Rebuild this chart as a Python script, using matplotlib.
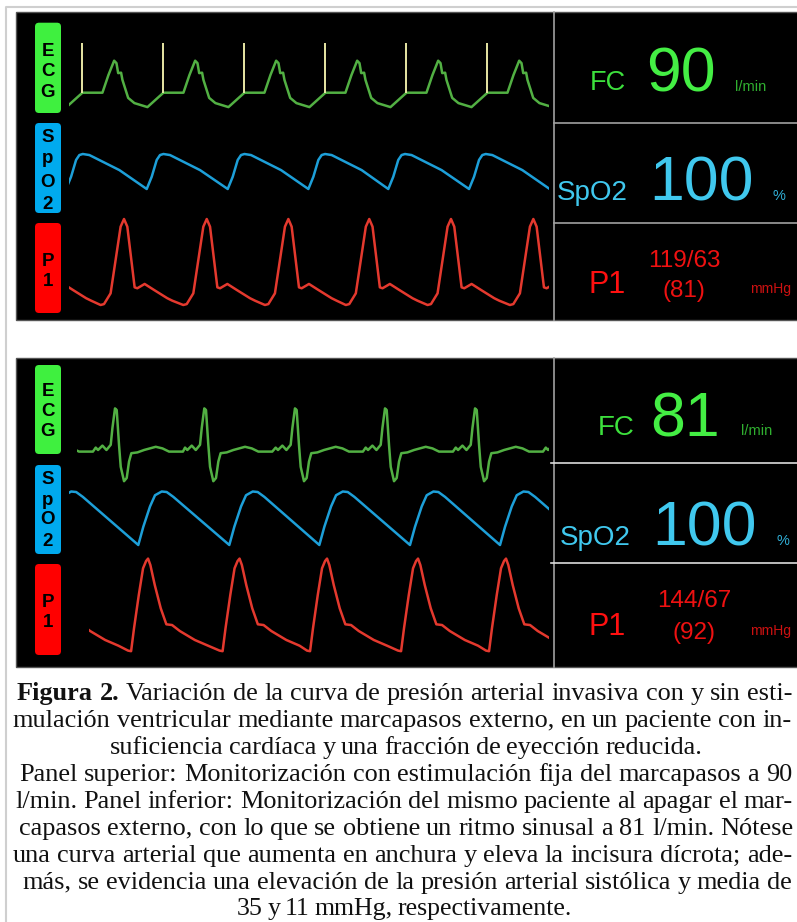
import numpy as np
import matplotlib.pyplot as plt
from matplotlib.patches import Rectangle, FancyBboxPatch

W, H = 797, 922
PX_PER_S = 122.0   # sweep speed of the monitor trace (px per second)
T0_PX = 69         # pixel column where t = 0 s

# ---------------- upper panel: pacemaker at 90 l/min ----------------
# ECG beat shape (s after pacing spike, mV)
ecg_pace_t = [0.000, 0.164, 0.213, 0.260, 0.279, 0.293, 0.317, 0.328, 0.375, 0.426, 0.533]
ecg_pace_v = [0.00, 0.00, 0.44, 0.80, 0.74, 0.49, 0.50, 0.32, -0.13, -0.26, -0.36]
pace_spike_mv = 1.25
pace_beats = [-0.554, 0.110, 0.774, 1.438, 2.102, 2.766, 3.430]

# pleth shape (s after trough, % of amplitude)
spo2_top_t = [0.000, 0.041, 0.082, 0.109, 0.137, 0.191, 0.437]
spo2_top_v = [0, 35, 83, 97, 100, 97, 54]
spo2_top_beats = [-0.024, 0.637, 1.301, 1.962, 2.617, 3.279, 3.940]

# arterial pressure shape (s around systolic peak, mmHg)
p1_top_t = [-0.192, -0.164, -0.110, -0.069, -0.028, 0.000, 0.027, 0.060, 0.087, 0.109,
            0.169, 0.246, 0.355, 0.396]
p1_top_v = [63.0, 63.6, 70.6, 92.3, 114.0, 119.0, 114.0, 92.3, 74.5, 73.9,
            76.7, 72.8, 67.4, 65.8]
p1_top_beats = [-0.214, 0.451, 1.129, 1.798, 2.461, 3.131, 3.806]

# ---------------- lower panel: sinus rhythm at 81 l/min ----------------
ecg_sin_t = [-0.158, -0.139, -0.103, -0.070, -0.035, -0.021, 0.000, 0.014, 0.033, 0.047,
             0.074, 0.096, 0.115, 0.134, 0.184, 0.238, 0.334, 0.389, 0.443, 0.557]
ecg_sin_v = [0.06, 0.00, 0.11, 0.00, 0.13, 0.55, 1.04, 1.00, 0.13, -0.42,
             -0.78, -0.70, -0.29, -0.08, -0.06, 0.00, 0.08, 0.04, -0.04, -0.04]
ecg_sin_beats = [-0.361, 0.377, 1.109, 1.852, 2.590, 3.328, 4.066]

spo2_bot_t = [0.000, 0.041, 0.096, 0.137, 0.192, 0.233, 0.287]
spo2_bot_v = [0, 34, 72, 93, 100, 99, 90]
spo2_bot_beats = [-0.174, 0.568, 1.314, 2.052, 2.795, 3.533, 4.275]

p1_bot_t = [-0.164, -0.139, -0.115, -0.076, -0.041, -0.016, 0.000, 0.019, 0.055, 0.104,
            0.150, 0.197, 0.260, 0.383, 0.492]
p1_bot_v = [66.5, 66.0, 85.2, 113.0, 135.4, 141.5, 143.5, 138.1, 121.4, 101.9,
            88.5, 87.9, 82.9, 75.4, 70.6]
p1_bot_beats = [-0.087, 0.648, 1.398, 2.115, 2.861, 3.582]

# numeric read-outs
top_values = {'fc': '90', 'spo2': '100', 'sys_dia': '119/63', 'mean': '(81)'}
bot_values = {'fc': '81', 'spo2': '100', 'sys_dia': '144/67', 'mean': '(92)'}

caption_lines = [
    "Figura 2. Variación de la curva de presión arterial invasiva con y sin esti-",
    "mulación ventricular mediante marcapasos externo, en un paciente con in-",
    "suficiencia cardíaca y una fracción de eyección reducida.",
    "Panel superior: Monitorización con estimulación fija del marcapasos a 90",
    "l/min. Panel inferior: Monitorización del mismo paciente al apagar el mar-",
    "capasos externo, con lo que se obtiene un ritmo sinusal a 81 l/min. Nótese",
    "una curva arterial que aumenta en anchura y eleva la incisura dícrota; ade-",
    "más, se evidencia una elevación de la presión arterial sistólica y media de",
    "35 y 11 mmHg, respectivamente.",
]

ECG_C = '#52b043'
SPO2_C = '#1d9fd8'
P1_C = '#e4392e'
SPIKE_C = '#e8e6a4'
SANS = 'Liberation Sans'
SERIF = 'Liberation Serif'
LW = 1.8

fig = plt.figure(figsize=(W / 100, H / 100), dpi=100)
bg = fig.add_axes([0, 0, 1, 1])
bg.set_xlim(0, W)
bg.set_ylim(H, 0)
bg.axis('off')

# outer light frame
bg.plot([6, 6, W + 5], [H + 5, 7, 7], color='#cfcfcf', lw=1.5)


def trace(tpl_t, tpl_v, beats):
    t = np.concatenate([b + np.array(tpl_t) for b in beats])
    v = np.tile(tpl_v, len(beats))
    return t, v


def strip_ax(span, y_top, y_bot, ref_px, ref_val, px_per_unit):
    x0 = T0_PX + PX_PER_S * span[0]
    x1 = T0_PX + PX_PER_S * span[1]
    ax = fig.add_axes([x0 / W, 1 - y_bot / H, (x1 - x0) / W, (y_bot - y_top) / H])
    ax.set_xlim(*span)
    ax.set_ylim(ref_val + (ref_px - y_bot) / px_per_unit, ref_val + (ref_px - y_top) / px_per_unit)
    ax.axis('off')
    return ax


def wave(ax, t, v, color):
    ax.plot(t, v, color=color, lw=LW, solid_joinstyle='round', solid_capstyle='round')


def label_box(x, y0, y1, color, letters):
    bg.add_patch(FancyBboxPatch((x, y0), 26, y1 - y0, boxstyle='round,pad=0,rounding_size=4',
                                fc=color, ec='none'))
    for ch, yb in letters:
        bg.text(x + 13, yb, ch, ha='center', va='baseline', fontsize=13.5,
                fontweight='bold', family=SANS, color='black')


def panel(y0, y1, dividers, div_c, div_x0):
    bg.add_patch(Rectangle((16, y0), W, y1 - y0, fc='black', ec='#555555', lw=1))
    bg.plot([554, 554], [y0, y1], color='#a0a0a0', lw=1.2)
    for yd in dividers:
        bg.plot([div_x0, W], [yd, yd], color=div_c, lw=1.2)


# ---------------- upper panel ----------------
panel(12.5, 320, [123.3, 223.3], '#a0a0a0', 554)
label_box(35, 22.7, 113, '#3ff03f', [('E', 55.5), ('C', 76), ('G', 97)])
label_box(35, 123, 213, '#00aaee', [('S', 142), ('p', 163), ('O', 187), ('2', 208.5)])
label_box(35, 223, 313, '#ff0000', [('P', 265.5), ('1', 285.5)])

span = (0.0, 3.934)
ax = strip_ax(span, 18, 118, 92.7, 0.0, 40.0)
t, v = trace(ecg_pace_t, ecg_pace_v, pace_beats)
wave(ax, t, v, ECG_C)
sp = [b for b in pace_beats if span[0] <= b <= span[1]]
ax.vlines(sp, 0, pace_spike_mv, color=SPIKE_C, lw=1.4)

ax = strip_ax(span, 128, 210, 189, 0.0, 0.35)
t, v = trace(spo2_top_t, spo2_top_v, spo2_top_beats)
wave(ax, t, v, SPO2_C)

ax = strip_ax(span, 210, 318, 305, 63.0, 1.5357)
t, v = trace(p1_top_t, p1_top_v, p1_top_beats)
wave(ax, t, v, P1_C)

bg.text(590, 90, 'FC', color='#3de03d', fontsize=19.5, family=SANS, va='baseline')
bg.text(680.5, 91.7, top_values['fc'], color='#44ee44', fontsize=45, family=SANS,
        va='baseline', ha='center')
bg.text(735, 90.7, 'l/min', color='#30b030', fontsize=10.5, family=SANS, va='baseline')
bg.text(557, 200, 'SpO2', color='#40c8ee', fontsize=20, family=SANS, va='baseline')
bg.text(701.5, 200, top_values['spo2'], color='#40c8ee', fontsize=45, family=SANS,
        va='baseline', ha='center')
bg.text(773, 200, '%', color='#30b0d8', fontsize=10.5, family=SANS, va='baseline')
bg.text(589, 293.3, 'P1', color='#ff1010', fontsize=22, family=SANS, va='baseline')
bg.text(684.5, 266.7, top_values['sys_dia'], color='#ee1111', fontsize=17.5, family=SANS,
        va='baseline', ha='center')
bg.text(684, 297, top_values['mean'], color='#ee1111', fontsize=17.5, family=SANS,
        va='baseline', ha='center')
bg.text(750, 293.3, 'mmHg', color='#cc1111', fontsize=10, family=SANS, va='baseline')

# ---------------- lower panel ----------------
panel(358, 667, [463.3, 562.7], '#dddddd', 551)
label_box(35, 365, 454, '#3ff03f', [('E', 395.5), ('C', 416), ('G', 436)])
label_box(35, 465, 554, '#00aaee', [('S', 484), ('p', 504.5), ('O', 524), ('2', 546)])
label_box(35, 564, 655, '#ff0000', [('P', 606.5), ('1', 626.5)])

ax = strip_ax((0.066, 3.934), 395, 492, 450, 0.0, 40.0)
t, v = trace(ecg_sin_t, ecg_sin_v, ecg_sin_beats)
wave(ax, t, v, ECG_C)

ax = strip_ax(span, 480, 555, 545, 0.0, 0.535)
t, v = trace(spo2_bot_t, spo2_bot_v, spo2_bot_beats)
wave(ax, t, v, SPO2_C)

ax = strip_ax((0.164, 3.934), 548, 662, 650, 67.0, 1.1948)
t, v = trace(p1_bot_t, p1_bot_v, p1_bot_beats)
wave(ax, t, v, P1_C)

bg.text(598, 435, 'FC', color='#3de03d', fontsize=20, family=SANS, va='baseline')
bg.text(685, 436, bot_values['fc'], color='#44ee44', fontsize=45, family=SANS,
        va='baseline', ha='center')
bg.text(741.5, 435, 'l/min', color='#30b030', fontsize=10.5, family=SANS, va='baseline')
bg.text(560, 544.5, 'SpO2', color='#40c8ee', fontsize=20, family=SANS, va='baseline')
bg.text(705, 545, bot_values['spo2'], color='#40c8ee', fontsize=45, family=SANS,
        va='baseline', ha='center')
bg.text(777, 545, '%', color='#30b0d8', fontsize=10.5, family=SANS, va='baseline')
bg.text(589, 635, 'P1', color='#ff1010', fontsize=22, family=SANS, va='baseline')
bg.text(694.5, 606.7, bot_values['sys_dia'], color='#ee1111', fontsize=17.5, family=SANS,
        va='baseline', ha='center')
bg.text(694, 638.5, bot_values['mean'], color='#ee1111', fontsize=17.5, family=SANS,
        va='baseline', ha='center')
bg.text(750, 635, 'mmHg', color='#cc1111', fontsize=10, family=SANS, va='baseline')

# ---------------- caption (justified line by line) ----------------
cap_baselines = [700, 727, 754, 781, 808, 835, 861.5, 888.5, 915]
cap_edges = [(16.7, 793), (12.7, 792), (110, 702), (19.3, 792), (15, 793),
             (19.3, 793.7), (12.7, 792), (22.7, 792), (236.7, 572)]

renderer = fig.canvas.get_renderer()


def make_words(n, line, yb, fs):
    items = []
    for i, w in enumerate(line.split(' ')):
        bold = (n == 0 and i < 2)
        tx = bg.text(0, yb, w, fontsize=fs, family=SERIF, va='baseline', ha='left',
                     fontweight='bold' if bold else 'normal', color='#111111')
        items.append((tx, tx.get_window_extent(renderer=renderer).width))
    return items


# pick one font size so that lines with normal spacing fill their measured widths
probe_fs = 16.0
ratios = []
for n, (line, (xl, xr)) in enumerate(zip(caption_lines, cap_edges)):
    probe = make_words(n, line, -100, probe_fs)
    words_w = sum(wd for _, wd in probe)
    space_w = 0.25 * probe_fs * 100 / 72
    natural = words_w + space_w * (len(probe) - 1)
    ratios.append((xr - xl) / natural)
    for tx, _ in probe:
        tx.remove()
CAP_FS = probe_fs * float(np.median(ratios))

for n, (line, yb, (xl, xr)) in enumerate(zip(caption_lines, cap_baselines, cap_edges)):
    fs = CAP_FS
    items = make_words(n, line, yb, fs)
    gap = (xr - xl - sum(wd for _, wd in items)) / max(len(items) - 1, 1)
    min_gap = 0.16 * fs * 100 / 72
    if gap < min_gap:
        for tx, _ in items:
            tx.remove()
        fs = fs * (xr - xl - min_gap * (len(items) - 1)) / sum(wd for _, wd in items)
        items = make_words(n, line, yb, fs)
        gap = (xr - xl - sum(wd for _, wd in items)) / max(len(items) - 1, 1)
    x = xl
    for tx, wd in items:
        tx.set_x(x)
        x += wd + gap

fig.savefig('out.png', dpi=100, facecolor='white')
